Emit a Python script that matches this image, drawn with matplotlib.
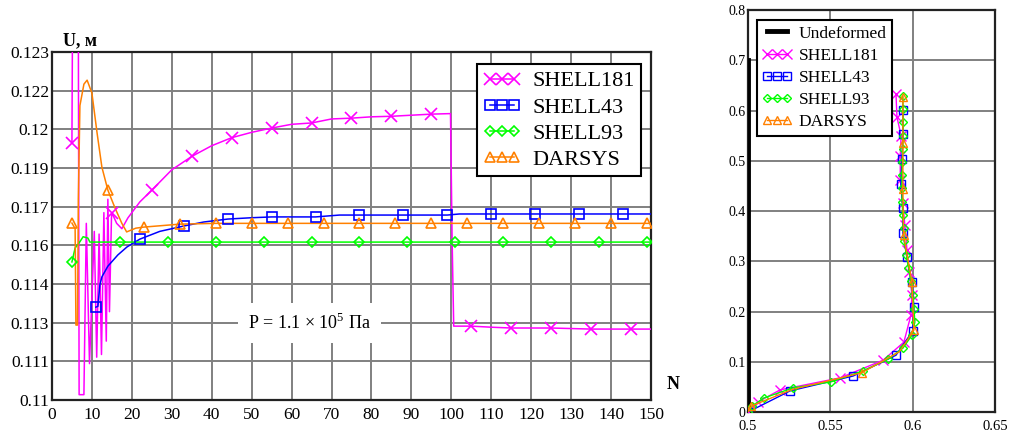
import matplotlib
matplotlib.use("Agg")
from matplotlib import pyplot as plt
from matplotlib.lines import Line2D
import numpy as np

plt.rcParams['font.family'] = ['Liberation Serif', 'DejaVu Serif']
plt.rcParams['mathtext.fontset'] = 'custom'
plt.rcParams['mathtext.rm'] = 'Liberation Serif'

# ---- left chart: U (m) vs N ----
n_181 = [5, 5.15, 6.6, 6.8, 8.0, 8.6, 9.4, 10.6, 11.2, 11.8, 12.4, 13.0, 13.6,
         14.0, 14.4, 14.9, 15, 16.2, 17.5, 19, 22, 25, 30, 35, 40, 45, 50, 55,
         60, 65, 70, 75, 80, 85, 90, 95, 99.8, 100.2, 100.6, 105, 110, 115,
         120, 125, 130, 135, 140, 145, 150]
u_181 = [0.1196, 0.1245, 0.1245, 0.1102, 0.1102, 0.1166, 0.11136, 0.1163,
         0.1116, 0.1162, 0.1117, 0.1170, 0.1122, 0.1175, 0.1133, 0.1168,
         0.1170, 0.1166, 0.1164, 0.1168, 0.1174, 0.11784, 0.1186, 0.1191,
         0.1195, 0.1198, 0.1200, 0.12016, 0.1203, 0.12035, 0.1205, 0.12053,
         0.12058, 0.1206, 0.12064, 0.12068, 0.1207, 0.1160, 0.11276, 0.11276,
         0.11272, 0.11269, 0.11269, 0.11269, 0.11267, 0.11265, 0.11265,
         0.11265, 0.11265]
mark_181 = [5, 15, 25, 35, 45, 55, 65, 75, 85, 95, 105, 115, 125, 135, 145]

n_43 = [11, 11.5, 12, 12.5, 14, 16.5, 18.8, 22, 27, 33, 38, 44, 50, 55, 66,
        72, 77, 88, 99, 102, 110, 121, 132, 143, 150]
u_43 = [0.11347, 0.1135, 0.1143, 0.1146, 0.1150, 0.11542, 0.11572, 0.11601,
        0.1163, 0.1165, 0.11665, 0.11676, 0.11681, 0.11684, 0.11684, 0.11691,
        0.11691, 0.11691, 0.11691, 0.11695, 0.11695, 0.11695, 0.11695,
        0.11695, 0.11695]
mark_43 = [11, 22, 33, 44, 55, 66, 77, 88, 99, 110, 121, 132, 143]

n_93 = [5, 5.8, 6.8, 7.8, 9, 9.5, 17, 29, 41, 53, 65, 77, 89, 101, 113, 125,
        137, 149, 150]
u_93 = [0.11516, 0.11568, 0.11587, 0.1161, 0.11605, 0.1159, 0.1159, 0.1159,
        0.1159, 0.1159, 0.1159, 0.1159, 0.1159, 0.1159, 0.1159, 0.1159,
        0.1159, 0.1159, 0.1159]
mark_93 = [5, 17, 29, 41, 53, 65, 77, 89, 101, 113, 125, 137, 149]

n_dar = [5, 5.8, 6.0, 6.4, 6.6, 7.0, 8.0, 8.8, 10, 11.3, 12.5, 14, 15.8,
         17.5, 18.7, 21, 23, 32, 41, 50, 59, 68, 77, 86, 95, 104, 113, 122,
         131, 140, 149, 150]
u_dar = [0.11661, 0.1164, 0.1128, 0.1128, 0.1175, 0.1210, 0.1218, 0.12195,
         0.12147, 0.11997, 0.1187, 0.11784, 0.11717, 0.1166, 0.11628,
         0.11642, 0.11646, 0.11657, 0.1166, 0.1166, 0.1166, 0.1166, 0.1166,
         0.1166, 0.1166, 0.1166, 0.1166, 0.1166, 0.1166, 0.1166, 0.1166,
         0.1166]
mark_dar = [5, 14, 23, 32, 41, 50, 59, 68, 77, 86, 95, 104, 113, 122, 131,
            140, 149]

u_tick_labels = ["0.11", "0.111", "0.113", "0.114", "0.116", "0.117",
                 "0.119", "0.12", "0.122", "0.123"]
n_ticks = [0, 10, 20, 30, 40, 50, 60, 70, 80, 90, 100, 110, 120, 130, 140, 150]

# ---- right chart: deformed profile ----
x_und = [0.5, 0.5]
y_und = [0.0, 0.7]

x_181 = [0.5, 0.506, 0.5194, 0.5559, 0.582, 0.5947, 0.599, 0.5996, 0.598,
         0.5966, 0.5953, 0.594, 0.5925, 0.5925, 0.593, 0.5905, 0.5899]
y_181 = [0.0, 0.02, 0.044, 0.068, 0.103, 0.139, 0.193, 0.233, 0.278, 0.322,
         0.372, 0.417, 0.462, 0.51, 0.55, 0.587, 0.633]

x_43 = [0.5, 0.5255, 0.5638, 0.5899, 0.6, 0.6008, 0.5996, 0.5966, 0.5941,
        0.5941, 0.5929, 0.5935, 0.5941, 0.5941]
y_43 = [0.0, 0.042, 0.0716, 0.113, 0.161, 0.209, 0.258, 0.308, 0.356, 0.406,
        0.454, 0.503, 0.553, 0.601]

x_93 = [0.5, 0.5024, 0.5097, 0.5273, 0.5504, 0.570, 0.585, 0.5941, 0.5996,
        0.6014, 0.6008, 0.6002, 0.599, 0.5975, 0.5962, 0.595, 0.5945, 0.594,
        0.5937, 0.5935, 0.5935, 0.5937, 0.594, 0.5942, 0.5942, 0.5942, 0.594]
y_93 = [0.0, 0.012, 0.028, 0.048, 0.060, 0.082, 0.105, 0.127, 0.153, 0.179,
        0.206, 0.233, 0.26, 0.287, 0.313, 0.34, 0.366, 0.392, 0.418, 0.445,
        0.471, 0.497, 0.524, 0.55, 0.577, 0.603, 0.63]

x_dar = [0.5, 0.502, 0.527, 0.569, 0.592, 0.6008, 0.5996, 0.5945, 0.5941,
         0.5941, 0.5941]
y_dar = [0.0, 0.012, 0.045, 0.078, 0.12, 0.163, 0.259, 0.352, 0.444, 0.535,
         0.627]
mark_dar_idx = [1, 3, 5, 6, 7, 8, 9, 10]

labels = ["SHELL181", "SHELL43", "SHELL93", "DARSYS"]
colors = ["#ff00ff", "#0000ff", "#00ff00", "#ff8000"]
markers = ["x", "s", "D", "^"]


def style_axes(ax):
    ax.set_axisbelow(True)
    ax.grid(True, color="#808080", linewidth=1.4)
    for sp in ax.spines.values():
        sp.set_linewidth(1.6)
        sp.set_color("#222222")
    ax.tick_params(length=0)


fig = plt.figure(figsize=(10.11, 4.34), dpi=100)

# left
ax1 = fig.add_axes([0.0514, 0.0783, 0.5925, 0.8018])
style_axes(ax1)
series = [(n_181, u_181, mark_181), (n_43, u_43, mark_43),
          (n_93, u_93, mark_93), (n_dar, u_dar, mark_dar)]
handles = []
for (n, u, mk), c, m, lab in zip(series, colors, markers, labels):
    ax1.plot(n, u, color=c, linewidth=1.1, zorder=3)
    idx = [n.index(v) for v in mk]
    ms = 8 if m == "x" else (5.5 if m == "D" else 7)
    ax1.plot([n[i] for i in idx], [u[i] for i in idx], linestyle="none",
             marker=m, markersize=ms, markerfacecolor="none",
             markeredgecolor=c, markeredgewidth=1.2, zorder=4)
    handles.append(Line2D([], [], color=c, linewidth=1.1, marker=m,
                          markersize=ms, markerfacecolor="none",
                          markeredgewidth=1.2))

ax1.set_xlim(0, 150)
ax1.set_ylim(0.11, 0.123)
ax1.set_xticks(n_ticks)
ax1.set_xticklabels([str(t) for t in n_ticks], fontsize=12.5)
yt = np.linspace(0.11, 0.123, len(u_tick_labels))
ax1.set_yticks(yt)
ax1.set_yticklabels(u_tick_labels, fontsize=12.5)
ax1.tick_params(axis="y", pad=2)
ax1.tick_params(axis="x", pad=5)

leg1 = ax1.legend(handles, labels, loc="upper left",
                  bbox_to_anchor=(0.709, 0.965), fontsize=16, numpoints=3,
                  handlelength=1.7, handletextpad=0.5, labelspacing=0.25,
                  borderpad=0.3, borderaxespad=0, fancybox=False,
                  framealpha=1, edgecolor="black")
leg1.get_frame().set_linewidth(1.5)

ax1.text(64.5, 0.11288, "P = 1.1 × $10^5$ Па", fontsize=13,
         ha="center", va="center",
         bbox=dict(boxstyle="square,pad=0.55", facecolor="white",
                   edgecolor="none"))
fig.text(0.062, 0.905, "U, м", fontsize=13, fontweight="bold", va="center")
fig.text(0.659, 0.113, "N", fontsize=13, fontweight="bold", va="center")

# right
ax2 = fig.add_axes([0.740, 0.0507, 0.244, 0.926])
style_axes(ax2)
ax2.plot(x_und, y_und, color="black", linewidth=3.5, zorder=3)
right = [(x_181, y_181, None), (x_43, y_43, None), (x_93, y_93, None),
         (x_dar, y_dar, mark_dar_idx)]
handles2 = [Line2D([], [], color="black", linewidth=3.5)]
for (x, y, mk), c, m in zip(right, colors, markers):
    ms = 6.5 if m == "x" else (4.5 if m == "D" else 6)
    ax2.plot(x, y, color=c, linewidth=1.0, marker=m, markevery=mk,
             markersize=ms, markerfacecolor="none", markeredgecolor=c,
             markeredgewidth=1.0, zorder=4)
    handles2.append(Line2D([], [], color=c, linewidth=1.0, marker=m,
                           markersize=ms, markerfacecolor="none",
                           markeredgewidth=1.0))
ax2.set_xlim(0.5, 0.65)
ax2.set_ylim(0, 0.8)
ax2.set_xticks([0.5, 0.55, 0.6, 0.65])
ax2.set_xticklabels(["0.5", "0.55", "0.6", "0.65"], fontsize=10.5)
ax2.set_yticks([0, 0.1, 0.2, 0.3, 0.4, 0.5, 0.6, 0.7, 0.8])
ax2.set_yticklabels(["0", "0.1", "0.2", "0.3", "0.4", "0.5", "0.6", "0.7",
                     "0.8"], fontsize=10)
ax2.tick_params(axis="y", pad=2)
ax2.tick_params(axis="x", pad=6)
leg2 = ax2.legend(handles2, ["Undeformed"] + labels, loc="upper left",
                  bbox_to_anchor=(0.036, 0.975), fontsize=12.5, numpoints=3,
                  handlelength=1.7, handletextpad=0.4, labelspacing=0.35,
                  borderpad=0.3, borderaxespad=0, fancybox=False,
                  framealpha=1, edgecolor="black")
leg2.get_frame().set_linewidth(1.5)

fig.savefig("out.png", dpi=100)
